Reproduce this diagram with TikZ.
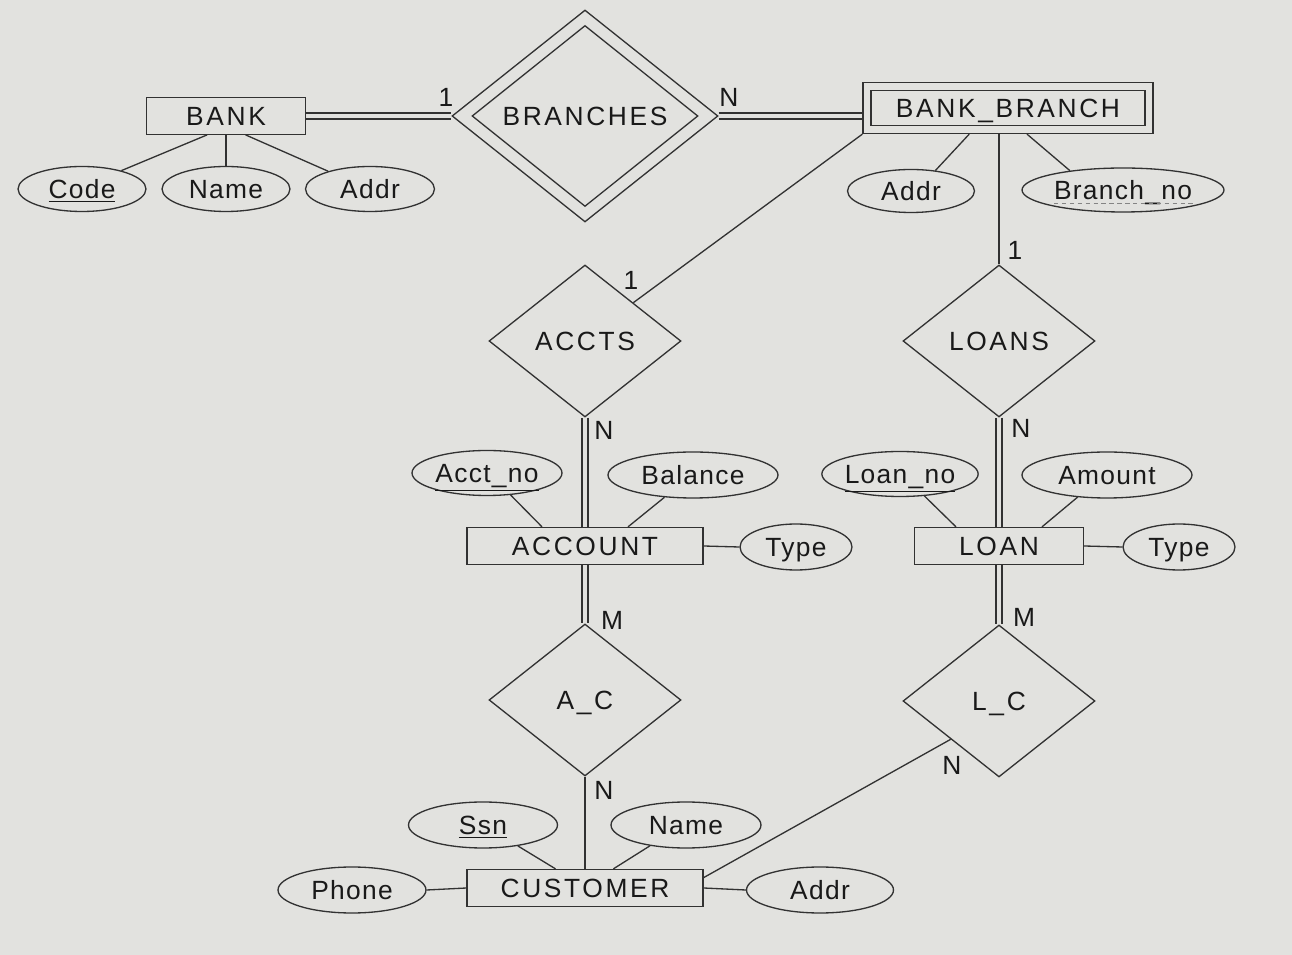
\documentclass[tikz,border=0pt]{standalone}
\usepackage{fontspec}
\setmainfont{Liberation Sans}
\usetikzlibrary{shapes.geometric}
\newfontfamily\erfont{Liberation Sans}[LetterSpace=10]
\newfontfamily\attfont{Liberation Sans}[LetterSpace=5]
\definecolor{bgc}{RGB}{226,226,223}
\definecolor{lnc}{RGB}{50,50,50}
\definecolor{txc}{RGB}{25,25,25}
\tikzset{
    lbl/.style={text=txc, text height=11pt, text depth=0.5pt},
    entity/.style={lbl, draw=lnc, rectangle, minimum height=0.73cm, inner sep=0, font=\erfont\fontsize{15}{17}\selectfont},
    attrib/.style={lbl, draw=lnc, ellipse, minimum height=0.9cm, inner sep=0, font=\attfont\fontsize{15}{17}\selectfont},
    rel/.style={lbl, draw=lnc, diamond, minimum width=3.84cm, minimum height=3.04cm, inner sep=0, font=\erfont\fontsize{15}{17}\selectfont},
    card/.style={lbl, inner sep=0, font=\attfont\fontsize{15}{17}\selectfont},
    link/.style={draw=lnc},
    dbl/.style={draw=lnc, double=bgc, double distance=0.095cm}
}
\begin{document}
\begin{tikzpicture}[x=0.02cm, y=-0.02cm, line width=0.75pt]
    \useasboundingbox[fill=bgc] (0,0) rectangle (1292,955);

    % Bank and branches
    \node[entity, minimum width=3.18cm] (bank) at (226,116) {BANK};
    \node[attrib, minimum width=2.56cm] (code) at (82,189) {\underline{Code}};
    \node[attrib, minimum width=2.56cm] (bname) at (226,189) {Name};
    \node[attrib, minimum width=2.58cm] (baddr) at (370,189) {Addr};
    \node[rel, minimum width=5.32cm, minimum height=4.24cm] (branches) at (585,116) {BRANCHES};
    \node[rel, minimum width=4.52cm, minimum height=3.62cm] (branchesin) at (branches) {};
    \node[entity, double=bgc, double distance=0.135cm, outer sep=0.093cm, minimum width=5.64cm, minimum height=0.86cm] (bb) at (1008,108) {BANK\_BRANCH};
    \node[attrib, minimum width=2.54cm, minimum height=0.86cm] (braddr) at (911,191) {Addr};
    \node[attrib, minimum width=4.04cm, minimum height=0.88cm] (brno) at (1123,190) {Branch\_no};
    \draw[lnc!60, line width=0.6pt, dash pattern=on 2.5pt off 2pt] ([xshift=-1.38cm, yshift=-0.09cm]brno.base) -- ([xshift=1.4cm, yshift=-0.09cm]brno.base);

    % Relationships of the branch
    \node[rel] (accts) at (585,341) {ACCTS};
    \node[rel] (loans) at (999,341) {LOANS};

    % Account side
    \node[entity, minimum width=4.72cm, minimum height=0.74cm] (account) at (585,546) {ACCOUNT};
    \node[attrib, minimum width=3.0cm] (acctno) at (487,473) {\underline{Acct\_no}};
    \node[attrib, minimum width=3.4cm, minimum height=0.92cm] (balance) at (693,475) {Balance};
    \node[attrib, minimum width=2.24cm, minimum height=0.92cm] (atype) at (796,547) {Type};
    \node[rel] (ac) at (585,700) {A\_C};

    % Loan side
    \node[entity, minimum width=3.38cm, minimum height=0.74cm] (loan) at (999,546) {LOAN};
    \node[attrib, minimum width=2.98cm] (loanno) at (900,474) {\underline{Loan\_no}};
    \node[attrib, minimum width=3.4cm, minimum height=0.92cm] (amount) at (1107,475) {Amount};
    \node[attrib, minimum width=2.24cm, minimum height=0.92cm] (ltype) at (1179,547) {Type};
    \node[rel] (lc) at (999,701) {L\_C};

    % Customer
    \node[entity, minimum width=4.72cm, minimum height=0.74cm] (customer) at (585,888) {CUSTOMER};
    \node[attrib, minimum width=2.98cm, minimum height=0.92cm] (ssn) at (483,825) {\underline{Ssn}};
    \node[attrib, minimum width=3.0cm, minimum height=0.92cm] (cname) at (686,825) {Name};
    \node[attrib, minimum width=2.96cm, minimum height=0.92cm] (phone) at (352,890) {Phone};
    \node[attrib, minimum width=2.94cm, minimum height=0.92cm] (caddr) at (820,890) {Addr};

    % Attribute links
    \draw[link] (bank.225) -- (code.25);
    \draw[link] (bank.south) -- (bname.north);
    \draw[link] (bank.-44) -- (baddr.157);
    \draw[link] (bb.214) -- (braddr.40);
    \draw[link] (bb.-54) -- (brno.160);
    \draw[link] (account.156) -- (acctno.-43);
    \draw[link] (account.24) -- (balance.218);
    \draw[link] (account.east) -- (atype.west);
    \draw[link] (loan.156) -- (loanno.-42);
    \draw[link] (loan.24) -- (amount.217);
    \draw[link] (loan.east) -- (ltype.west);
    \draw[link] (customer.147) -- (ssn.-31);
    \draw[link] (customer.34) -- (cname.210);
    \draw[link] (customer.west) -- (phone.east);
    \draw[link] (customer.east) -- (caddr.west);

    % Relationship links
    \draw[dbl] (bank.east) -- (branches.west);
    \draw[dbl] (branches.east) -- (branches.east -| bb.west);
    \draw[link] (bb.south west) -- (accts.north east);
    \draw[link] (loans.north |- bb.south) -- (loans.north);
    \draw[dbl] (accts.south) -- (account.north);
    \draw[dbl] (loans.south) -- (loan.north);
    \draw[dbl] (account.south) -- (ac.north);
    \draw[dbl] (loan.south) -- (lc.north);
    \draw[link] (ac.south) -- (customer.north);
    \draw[link] (customer.5) -- (lc.south west);

    % Cardinalities
    \node[card] (cbank) at (446,97) {1};
    \node[card] (cbb) at (729,97) {N};
    \node[card] (cacc1) at (631,280) {1};
    \node[card] (cloan1) at (1015,250) {1};
    \node[card] (caccn) at (604,430) {N};
    \node[card] (cloann) at (1021,428) {N};
    \node[card] (cacm) at (612,620) {M};
    \node[card] (clcm) at (1024,617) {M};
    \node[card] (cacn) at (604,790) {N};
    \node[card] (clcn) at (952,765) {N};
\end{tikzpicture}
\end{document}
